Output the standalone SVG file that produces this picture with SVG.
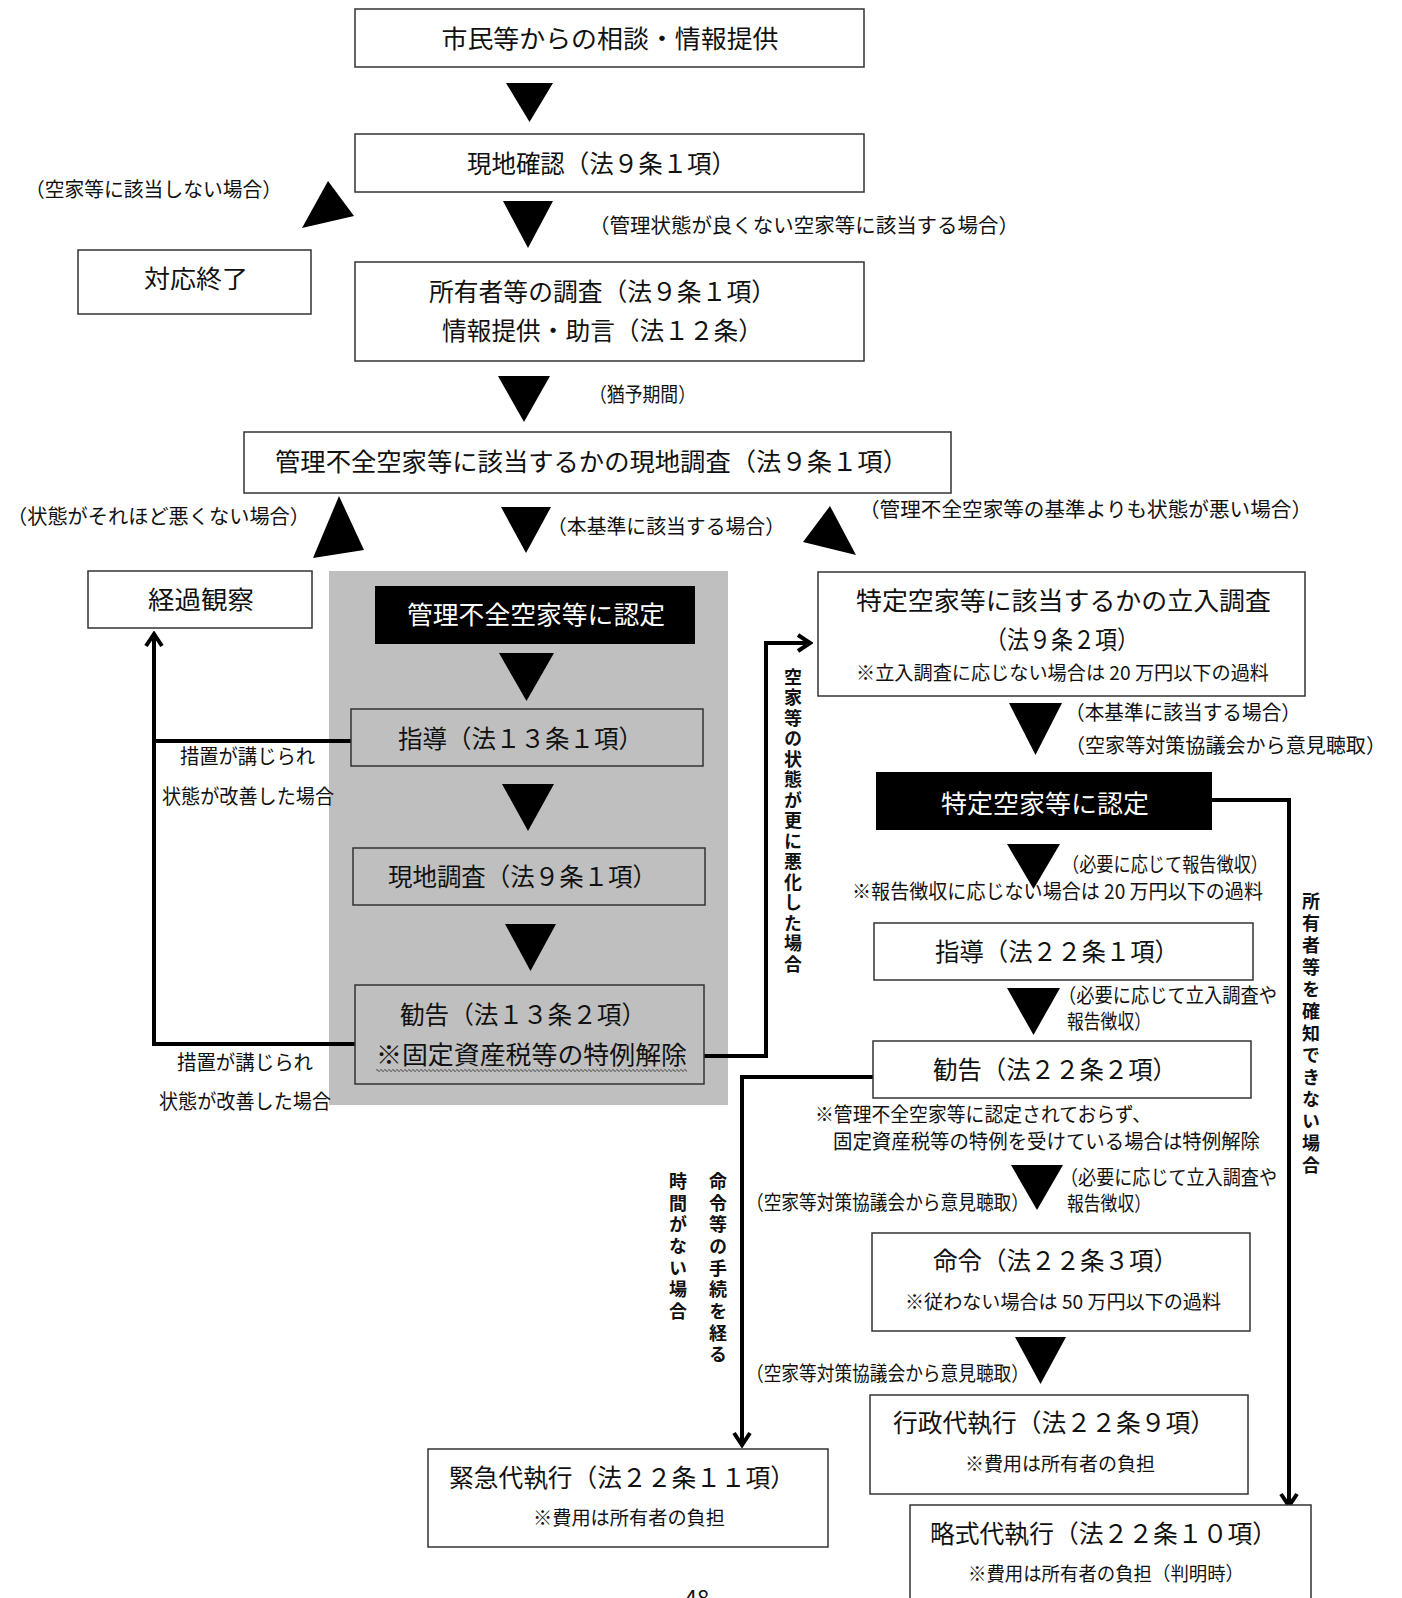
<svg xmlns="http://www.w3.org/2000/svg" width="1402" height="1598" viewBox="0 0 1402 1598">
<style>
text{font-family:"Noto Sans CJK JP","Noto Sans",sans-serif;fill:#111;}
.t{font-size:25px;text-anchor:middle;}
.a{font-size:20px;}
.am{font-size:20px;text-anchor:middle;}
.n{font-size:19px;text-anchor:middle;}
.w{fill:#fff;}
.box{fill:#fff;stroke:#333;stroke-width:1.5;}
.gbox{fill:none;stroke:#333;stroke-width:1.5;}
.blk{fill:#000;}
.tri{fill:#000;}
.con{fill:none;stroke:#000;stroke-width:4;}
.v{font-size:18px;writing-mode:vertical-rl;font-weight:bold;}
</style>
<defs>
<marker id="arr" viewBox="0 0 20 20" refX="17" refY="10" markerWidth="20" markerHeight="20" markerUnits="userSpaceOnUse" orient="auto">
<path d="M5,2 L17,10 L5,18" fill="none" stroke="#000" stroke-width="4"/>
</marker>
<pattern id="wave" width="4" height="4" patternUnits="userSpaceOnUse">
<path d="M0,2.5 Q1,0.5 2,2.5 T4,2.5" fill="none" stroke="#000" stroke-width="0.8"/>
</pattern>
</defs>
<rect width="1402" height="1598" fill="#fff"/>
<rect x="329" y="571" width="399" height="534" fill="#bfbfbf"/>

<g id="connectors">
<path class="con" d="M351,741 H154"/>
<path class="con" d="M355,1044 H154 V634" marker-end="url(#arr)"/>
<path class="con" d="M704,1056 H766 V643 H810" marker-end="url(#arr)"/>
<path class="con" d="M1212,800 H1289 V1506" marker-end="url(#arr)"/>
<path class="con" d="M873,1077 H742 V1445" marker-end="url(#arr)"/>
<polygon class="tri" points="506,83 553,83 529.5,122"/>
<polygon class="tri" points="328,181 354,216 302,228"/>
<polygon class="tri" points="503,201 553,201 528,248"/>
<polygon class="tri" points="498,376 550,376 524,422"/>
<polygon class="tri" points="339,496 364,550 313,558"/>
<polygon class="tri" points="501,507 551,507 526,553"/>
<polygon class="tri" points="830,506 856,555 803,542"/>
<polygon class="tri" points="499,653 554,653 526.5,701"/>
<polygon class="tri" points="502,784 554,784 528,831"/>
<polygon class="tri" points="505,924 556,924 530.5,971"/>
<polygon class="tri" points="1009,703 1062,703 1035.5,755"/>
<polygon class="tri" points="1007,844 1060,844 1033.5,889"/>
<polygon class="tri" points="1007,988 1060,988 1033.5,1035"/>
<polygon class="tri" points="1011,1165 1063,1165 1037,1210"/>
<polygon class="tri" points="1015,1337 1066,1337 1040.5,1384"/>
</g>

<g id="labels">
<text class="am" x="153.5" y="197" textLength="257" lengthAdjust="spacingAndGlyphs">（空家等に該当しない場合）</text>
<text class="am" x="804" y="233" textLength="430" lengthAdjust="spacingAndGlyphs">（管理状態が良くない空家等に該当する場合）</text>
<text class="am" x="642.5" y="402" textLength="107" lengthAdjust="spacingAndGlyphs">（猶予期間）</text>
<text class="am" x="158.5" y="524" textLength="303" lengthAdjust="spacingAndGlyphs">（状態がそれほど悪くない場合）</text>
<text class="am" x="666" y="534" textLength="238" lengthAdjust="spacingAndGlyphs">（本基準に該当する場合）</text>
<text class="am" x="1085.5" y="517" textLength="453" lengthAdjust="spacingAndGlyphs">（管理不全空家等の基準よりも状態が悪い場合）</text>
<text class="am" x="247.5" y="764" textLength="135" lengthAdjust="spacingAndGlyphs">措置が講じられ</text>
<text class="am" x="248" y="804" textLength="172" lengthAdjust="spacingAndGlyphs">状態が改善した場合</text>
<text class="am" x="245" y="1070" textLength="136" lengthAdjust="spacingAndGlyphs">措置が講じられ</text>
<text class="am" x="245" y="1109" textLength="172" lengthAdjust="spacingAndGlyphs">状態が改善した場合</text>
<text class="am" x="1183" y="720" textLength="236" lengthAdjust="spacingAndGlyphs">（本基準に該当する場合）</text>
<text class="am" x="1225.5" y="753" textLength="321" lengthAdjust="spacingAndGlyphs">（空家等対策協議会から意見聴取）</text>
<text class="am" x="1165" y="872" textLength="206" lengthAdjust="spacingAndGlyphs">（必要に応じて報告徴収）</text>
<text class="am" x="1057.5" y="899" textLength="411" lengthAdjust="spacingAndGlyphs">※報告徴収に応じない場合は 20 万円以下の過料</text>
<text class="a" x="1058" y="1003" textLength="219" lengthAdjust="spacingAndGlyphs">（必要に応じて立入調査や</text>
<text class="a" x="1067" y="1029" textLength="84" lengthAdjust="spacingAndGlyphs">報告徴収）</text>
<text class="a" x="815" y="1122" textLength="336" lengthAdjust="spacingAndGlyphs">※管理不全空家等に認定されておらず、</text>
<text class="a" x="833" y="1149" textLength="427" lengthAdjust="spacingAndGlyphs">固定資産税等の特例を受けている場合は特例解除</text>
<text class="a" x="1060" y="1185" textLength="217" lengthAdjust="spacingAndGlyphs">（必要に応じて立入調査や</text>
<text class="a" x="1067" y="1211" textLength="84" lengthAdjust="spacingAndGlyphs">報告徴収）</text>
<text class="a" x="746" y="1210" textLength="283" lengthAdjust="spacingAndGlyphs">（空家等対策協議会から意見聴取）</text>
<text class="a" x="746" y="1381" textLength="283" lengthAdjust="spacingAndGlyphs">（空家等対策協議会から意見聴取）</text>
<text class="v" x="793" y="668" letter-spacing="2.5">空家等の状態が更に悪化した場合</text>
<text class="v" x="1311" y="892" letter-spacing="4">所有者等を確知できない場合</text>
<text class="v" x="718" y="1172" letter-spacing="3.7">命令等の手続を経る</text>
<text class="v" x="678" y="1172" letter-spacing="3.7">時間がない場合</text>
<text x="697" y="1606" font-size="22" text-anchor="middle">48</text>
</g>

<g id="n1"><rect class="box" x="355" y="9" width="509" height="58"/>
<text class="t" x="610" y="48" textLength="337" lengthAdjust="spacingAndGlyphs">市民等からの相談・情報提供</text></g>
<g id="n2"><rect class="box" x="355" y="134" width="509" height="58"/>
<text class="t" x="601.5" y="173" textLength="269" lengthAdjust="spacingAndGlyphs">現地確認（法９条１項）</text></g>
<g id="n3"><rect class="box" x="78" y="250" width="233" height="64"/>
<text class="t" x="196" y="288" textLength="104" lengthAdjust="spacingAndGlyphs">対応終了</text></g>
<g id="n4"><rect class="box" x="355" y="262" width="509" height="99"/>
<text class="t" x="602.5" y="301" textLength="347" lengthAdjust="spacingAndGlyphs">所有者等の調査（法９条１項）</text>
<text class="t" x="602.5" y="340" textLength="321" lengthAdjust="spacingAndGlyphs">情報提供・助言（法１２条）</text></g>
<g id="n5"><rect class="box" x="244" y="432" width="707" height="61"/>
<text class="t" x="591.5" y="471" textLength="633" lengthAdjust="spacingAndGlyphs">管理不全空家等に該当するかの現地調査（法９条１項）</text></g>
<g id="n6"><rect class="box" x="88" y="571" width="224" height="57"/>
<text class="t" x="201" y="609" textLength="106" lengthAdjust="spacingAndGlyphs">経過観察</text></g>
<g id="n7"><rect class="blk" x="375" y="586" width="320" height="58"/>
<text class="t w" x="536" y="624" textLength="258" lengthAdjust="spacingAndGlyphs">管理不全空家等に認定</text></g>
<g id="n8"><rect class="gbox" x="351" y="709" width="352" height="57"/>
<text class="t" x="520.5" y="748" textLength="245" lengthAdjust="spacingAndGlyphs">指導（法１３条１項）</text></g>
<g id="n9"><rect class="gbox" x="353" y="848" width="352" height="57"/>
<text class="t" x="522.5" y="886" textLength="269" lengthAdjust="spacingAndGlyphs">現地調査（法９条１項）</text></g>
<g id="n10"><rect class="gbox" x="355" y="985" width="349" height="99"/>
<text class="t" x="523" y="1024" textLength="246" lengthAdjust="spacingAndGlyphs">勧告（法１３条２項）</text>
<text class="t" x="531.5" y="1064" textLength="311" lengthAdjust="spacingAndGlyphs">※固定資産税等の特例解除</text>
<rect x="376" y="1068" width="311" height="4" fill="url(#wave)"/></g>
<g id="n11"><rect class="box" x="818" y="572" width="487" height="124"/>
<text class="t" x="1063.5" y="610" textLength="415" lengthAdjust="spacingAndGlyphs">特定空家等に該当するかの立入調査</text>
<text class="t" x="1062" y="649" textLength="154" lengthAdjust="spacingAndGlyphs">（法９条２項）</text>
<text class="n" x="1062.5" y="680" textLength="413" lengthAdjust="spacingAndGlyphs">※立入調査に応じない場合は 20 万円以下の過料</text></g>
<g id="n12"><rect class="blk" x="876" y="772" width="336" height="58"/>
<text class="t w" x="1045" y="813" textLength="208" lengthAdjust="spacingAndGlyphs">特定空家等に認定</text></g>
<g id="n13"><rect class="box" x="874" y="923" width="379" height="57"/>
<text class="t" x="1057" y="961" textLength="244" lengthAdjust="spacingAndGlyphs">指導（法２２条１項）</text></g>
<g id="n14"><rect class="box" x="873" y="1041" width="378" height="57"/>
<text class="t" x="1055" y="1079" textLength="244" lengthAdjust="spacingAndGlyphs">勧告（法２２条２項）</text></g>
<g id="n15"><rect class="box" x="872" y="1233" width="378" height="98"/>
<text class="t" x="1055.5" y="1270" textLength="245" lengthAdjust="spacingAndGlyphs">命令（法２２条３項）</text>
<text class="n" x="1063" y="1309" textLength="316" lengthAdjust="spacingAndGlyphs">※従わない場合は 50 万円以下の過料</text></g>
<g id="n16"><rect class="box" x="870" y="1395" width="378" height="99"/>
<text class="t" x="1054" y="1432" textLength="322" lengthAdjust="spacingAndGlyphs">行政代執行（法２２条９項）</text>
<text class="n" x="1060" y="1471" textLength="190" lengthAdjust="spacingAndGlyphs">※費用は所有者の負担</text></g>
<g id="n17"><rect class="box" x="428" y="1449" width="400" height="98"/>
<text class="t" x="622" y="1487" textLength="346" lengthAdjust="spacingAndGlyphs">緊急代執行（法２２条１１項）</text>
<text class="n" x="629" y="1525" textLength="192" lengthAdjust="spacingAndGlyphs">※費用は所有者の負担</text></g>
<g id="n18"><rect class="box" x="910" y="1505" width="401" height="120"/>
<text class="t" x="1103.5" y="1543" textLength="347" lengthAdjust="spacingAndGlyphs">略式代執行（法２２条１０項）</text>
<text class="n" x="1106" y="1581" textLength="276" lengthAdjust="spacingAndGlyphs">※費用は所有者の負担（判明時）</text></g>
</svg>
